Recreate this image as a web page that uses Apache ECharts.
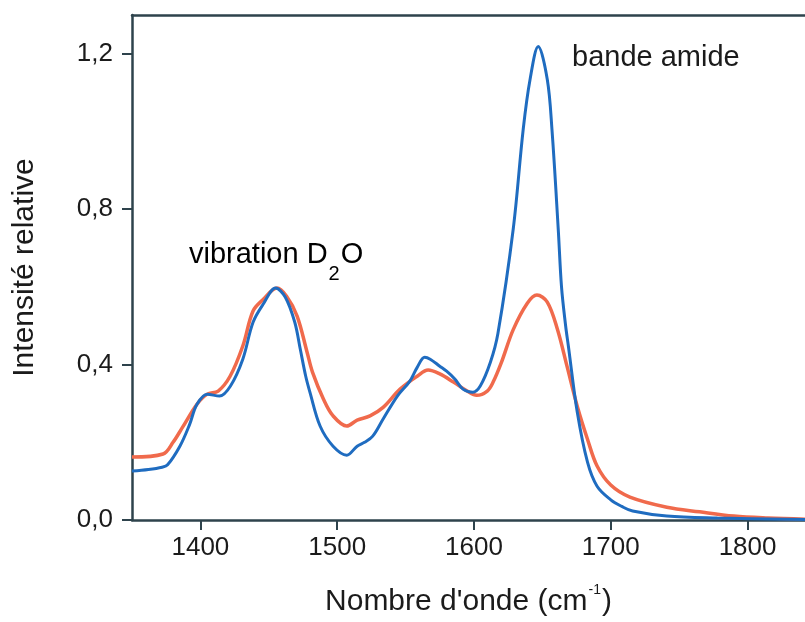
<!DOCTYPE html>
<html>
<head>
<meta charset="utf-8">
<script src="https://cdn.jsdelivr.net/npm/echarts@6/dist/echarts.min.js"></script>
<style>
  html, body { margin: 0; padding: 0; background: #fff; }
  #chart { width: 805px; height: 622px; }
</style>
</head>
<body>
<div id="chart"></div>
<script>
// spectre bleu (bande amide haute)
const blueWavenumber = [1350, 1362, 1372, 1376, 1385, 1392, 1397.5, 1405, 1414, 1422, 1431, 1438.5, 1446, 1455, 1462, 1469, 1473, 1477, 1480, 1487.5, 1497, 1507, 1514.6, 1520, 1526, 1533.6, 1544, 1553, 1558.5, 1564, 1568, 1575, 1580, 1586, 1592, 1599, 1604.6, 1612, 1617.5, 1628.7, 1636, 1641, 1647, 1653.6, 1657, 1661.6, 1664, 1667, 1669, 1675.5, 1683, 1690, 1700, 1708, 1716, 1741, 1778, 1842];
const blueIntensity = [0.126, 0.13, 0.136, 0.142, 0.19, 0.245, 0.298, 0.324, 0.319, 0.345, 0.414, 0.509, 0.556, 0.597, 0.574, 0.509, 0.44, 0.37, 0.33, 0.242, 0.19, 0.167, 0.19, 0.2, 0.216, 0.26, 0.319, 0.357, 0.393, 0.419, 0.414, 0.396, 0.383, 0.363, 0.337, 0.329, 0.345, 0.406, 0.48, 0.749, 1.006, 1.134, 1.219, 1.134, 1.006, 0.749, 0.6, 0.5, 0.448, 0.278, 0.149, 0.087, 0.052, 0.035, 0.023, 0.01, 0.005, 0.001];

// spectre rouge
const redWavenumber = [1350, 1372.7, 1380, 1387, 1397.5, 1405, 1413, 1421.7, 1431, 1438.5, 1446, 1456, 1463, 1470.7, 1478, 1482, 1490, 1497, 1507, 1514.6, 1524, 1533.6, 1546, 1558.5, 1566.5, 1575, 1585, 1595, 1602, 1609.7, 1614, 1620, 1628.7, 1639, 1646, 1653.6, 1661, 1668, 1675.5, 1683, 1690, 1700, 1714, 1741, 1765, 1790, 1815, 1842];
const redIntensity = [0.162, 0.17, 0.2, 0.239, 0.298, 0.324, 0.332, 0.37, 0.448, 0.538, 0.568, 0.597, 0.576, 0.525, 0.432, 0.38, 0.311, 0.268, 0.242, 0.257, 0.268, 0.29, 0.337, 0.37, 0.386, 0.376, 0.355, 0.332, 0.321, 0.332, 0.355, 0.405, 0.49, 0.558, 0.579, 0.561, 0.491, 0.396, 0.293, 0.208, 0.139, 0.09, 0.059, 0.033, 0.021, 0.01, 0.005, 0.002];

const xTicks = [1400, 1500, 1600, 1700, 1800];
const yTicks = [0, 0.4, 0.8, 1.2];

const FONT = 'Liberation Sans, Arial, sans-serif';
const AXIS_COLOR = '#2e434c';
const TEXT_COLOR = '#1b1b1b';

const zip = (xs, ys) => xs.map((x, i) => [x, ys[i]]);

const chart = echarts.init(document.getElementById('chart'), null, { renderer: 'canvas' });

const option = {
  backgroundColor: '#fff',
  animation: false,
  grid: { left: 132, right: 0, top: 15, bottom: 101 },
  xAxis: [
    {
      type: 'value',
      min: 1350,
      max: 1842,
      name: "{a|Nombre d'onde (cm}{sup|-1}{a|)}",
      nameLocation: 'middle',
      nameGap: 63,
      nameTextStyle: {
        rich: {
          a: { fontFamily: FONT, fontSize: 30, color: TEXT_COLOR },
          sup: { fontFamily: FONT, fontSize: 14, color: TEXT_COLOR, padding: [0, 1, 24, 1] }
        }
      },
      axisLine: { show: true, lineStyle: { color: AXIS_COLOR, width: 2.5 } },
      axisTick: { show: true, length: 10, lineStyle: { color: AXIS_COLOR, width: 2 }, customValues: xTicks },
      axisLabel: {
        fontFamily: FONT, fontSize: 26, color: TEXT_COLOR, margin: 15,
        customValues: xTicks,
        formatter: (v) => String(v)
      },
      splitLine: { show: false }
    },
    {
      type: 'value',
      position: 'top',
      min: 1350,
      max: 1842,
      axisLine: { show: true, lineStyle: { color: AXIS_COLOR, width: 2.5 } },
      axisTick: { show: false },
      axisLabel: { show: false },
      splitLine: { show: false }
    }
  ],
  yAxis: {
    type: 'value',
    min: 0,
    max: 1.3,
    name: 'Intensité relative',
    nameLocation: 'middle',
    nameGap: 92,
    nameTextStyle: { fontFamily: FONT, fontSize: 30, color: TEXT_COLOR },
    axisLine: { show: true, lineStyle: { color: AXIS_COLOR, width: 2.5 } },
    axisTick: { show: true, length: 10, lineStyle: { color: AXIS_COLOR, width: 2 }, customValues: yTicks },
    axisLabel: {
      fontFamily: FONT, fontSize: 26, color: TEXT_COLOR, margin: 19,
      customValues: yTicks,
      formatter: (v) => v.toFixed(1).replace('.', ',')
    },
    splitLine: { show: false }
  },
  series: [
    {
      name: 'rouge',
      type: 'line',
      data: zip(redWavenumber, redIntensity),
      showSymbol: false,
      smooth: 0.35,
      lineStyle: { color: '#f06a4c', width: 3.5 },
      z: 2
    },
    {
      name: 'bleu',
      type: 'line',
      data: zip(blueWavenumber, blueIntensity),
      showSymbol: false,
      smooth: 0.35,
      lineStyle: { color: '#1f6cc0', width: 3 },
      z: 3
    }
  ],
  graphic: [
    {
      type: 'text',
      left: 189,
      top: 240,
      style: {
        text: '{a|vibration D}{s|2}{a|O}',
        rich: {
          a: { fontFamily: FONT, fontSize: 29, color: TEXT_COLOR },
          s: { fontFamily: FONT, fontSize: 20, color: TEXT_COLOR, padding: [40, 1, 0, 1] }
        }
      }
    },
    {
      type: 'text',
      left: 572,
      top: 43,
      style: { text: 'bande amide', fontFamily: FONT, fontSize: 29, fill: TEXT_COLOR }
    }
  ]
};

chart.setOption(option);
</script>
</body>
</html>
